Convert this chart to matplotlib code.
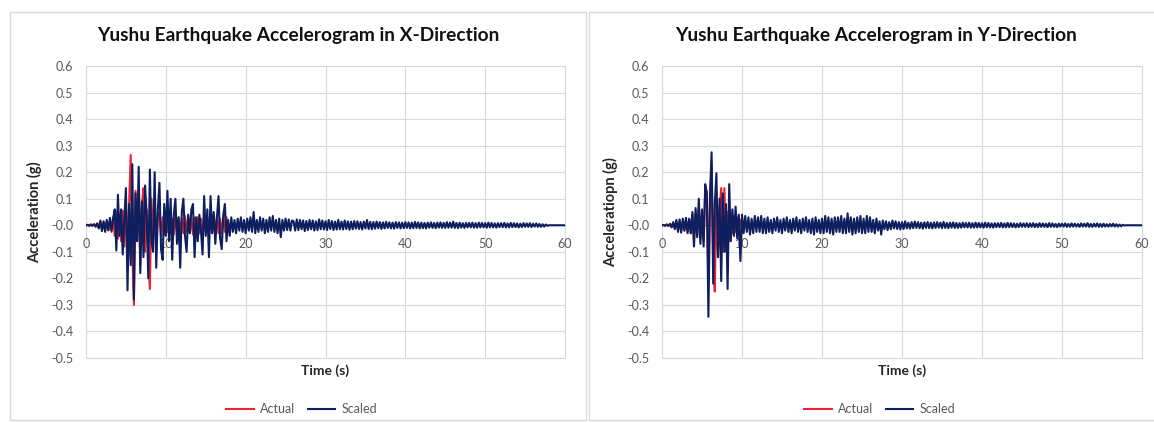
import numpy as np
import matplotlib
matplotlib.use("Agg")
import matplotlib.pyplot as plt
from matplotlib.patches import Rectangle

plt.rcParams['font.family'] = ['Lato', 'DejaVu Sans']

DT = 0.2  # sample interval (s) of the digitised records

# accelerations in milli-g, one row = 2 s
scaled_x_mg = [
    0, 1, -1, 2, -1, 3, -4, 6, -12, 18,
    -22, 15, -25, 20, -18, 28, -20, 25, 60, -95,
    115, -40, 60, -110, 20, 140, -245, 80, -150, 230,
    -280, 120, -60, 220, -180, 90, -120, 150, 40, -200,
    210, -60, -100, 200, -160, 60, 160, -90, -130, 80,
    -40, 130, -60, 100, -130, 40, 100, -70, 30, -160,
    50, 100, -40, -100, 40, -30, 60, 80, -120, 30,
    -60, 40, -20, -110, 110, -40, 60, -120, 110, -30,
    50, -70, 30, 110, -50, -90, 40, 80, -60, 20,
    -40, 30, -25, 20, -30, 25, -20, 30, -25, 20,
    -30, 25, -20, 30, -25, 50, -30, 20, -25, 30,
    -20, 25, -30, 20, -25, 30, -20, 35, -25, 20,
    -30, 25, -45, 20, -20, 25, -18, 22, -20, 18,
    15, -20, 22, -18, 20, -15, 18, -22, 16, -18,
    20, -15, 18, -20, 15, -18, 22, -15, 18, -16,
    15, -18, 20, -14, 16, -18, 14, -16, 20, -15,
    14, -16, 18, -14, 15, -17, 14, -15, 16, -13,
    15, -14, 12, -16, 14, -12, 20, -14, 13, -15,
    12, -13, 14, -11, 12, -14, 11, -12, 13, -10,
    11, -12, 10, -13, 12, -10, 11, -12, 10, -11,
    12, -10, 11, -12, 10, -11, 13, -10, 11, -12,
    10, -11, 9, -12, 10, -9, 11, -10, 9, -11,
    10, -9, 11, -10, 9, -10, 12, -9, 10, -9,
    14, -10, 9, -11, 10, -9, 8, -10, 9, -8,
    9, -8, 10, -9, 8, -9, 10, -8, 9, -8,
    8, -9, 10, -8, 9, -8, 7, -9, 8, -7,
    8, -7, 9, -8, 7, -8, 9, -7, 8, -7,
    7, -8, 6, -7, 8, -6, 7, -6, 8, -7,
    6, -5, 7, -6, 5, -6, 4, -5, 3, -2,
    0, 0, 0, 0, 0, 0, 0, 0, 0, 0,
    0,
]

actual_x_mg = [
    0, 2, -3, 4, -3, 5, -6, 8, -10, 12,
    -15, 12, -18, 14, -20, 16, -25, 30, -40, 50,
    -50, 40, -60, 55, -80, 100, -120, 80, 265, -100,
    -300, 130, -60, 120, -150, 80, 140, -100, 60, -120,
    -240, 100, -60, 80, -100, 40, 50, -40, 30, -35,
    30, -25, 35, -30, 25, -35, 30, -25, 30, -30,
    25, -30, 35, -25, 30, -30, 25, -35, 30, -25,
    30, -30, 25, -30, 35, -25, 30, -30, 25, -30,
    30, -25, 35, -30, 25, -30, 30, -25, 30, -20,
    0,
]

scaled_y_mg = [
    0, 1, -2, 3, -2, 5, -8, 12, -15, 20,
    -25, 22, -28, 25, -20, 28, -30, 25, -30, 50,
    -80, 65, -45, 100, -70, 60, -80, 155, 120, -345,
    110, 275, -220, 80, 196, -120, 100, -210, 120, -100,
    80, -240, 155, -60, 60, -40, 70, -50, 40, -135,
    40, -30, 35, -25, 30, -35, 25, -30, 35, -25,
    30, -25, 35, -30, 25, -30, 30, -25, 20, -30,
    25, -20, 30, -25, 20, -30, 25, -20, 30, -25,
    20, -30, 25, -20, 30, -25, 20, -30, 25, -20,
    30, -25, 20, -30, 25, -35, 30, -25, 20, -30,
    25, -30, 35, -25, 30, -30, 25, -35, 30, -25,
    30, -25, 35, -30, 25, -30, 45, -25, 30, -35,
    25, -30, 30, -25, 35, -30, 25, -30, 35, -25,
    30, -25, 20, -30, 25, -20, 15, -35, 18, -15,
    15, -18, 12, -15, 18, -12, 15, -14, 12, -16,
    12, -14, 15, -12, 10, -13, 12, -11, 14, -10,
    12, -11, 10, -13, 11, -10, 12, -11, 10, -12,
    11, -10, 12, -9, 10, -11, 13, -10, 9, -11,
    10, -9, 11, -10, 9, -10, 8, -9, 10, -8,
    9, -8, 10, -9, 8, -9, 10, -8, 9, -8,
    8, -9, 10, -8, 9, -8, 7, -9, 8, -7,
    8, -7, 9, -8, 7, -8, 9, -7, 8, -7,
    7, -8, 6, -7, 8, -6, 7, -6, 8, -7,
    7, -6, 8, -7, 6, -7, 8, -6, 7, -6,
    6, -7, 8, -6, 7, -6, 5, -7, 6, -5,
    6, -5, 7, -6, 5, -6, 7, -5, 6, -5,
    5, -6, 7, -5, 6, -5, 8, -6, 5, -6,
    6, -5, 7, -6, 5, -6, 6, -5, 4, -5,
    5, -4, 6, -5, 4, -5, 3, -4, 2, -1,
    0, 0, 0, 0, 0, 0, 0, 0, 0, 0,
    0,
]

actual_y_mg = [
    0, 1, -2, 3, -3, 5, -6, 8, -10, 12,
    -15, 12, -18, 15, -20, 18, -22, 20, -30, 40,
    -50, 45, -40, 60, -50, 40, -60, 120, 130, -220,
    100, 240, -150, -250, 100, -120, 60, 140, -100, 140,
    -100, 50, -60, 40, -30, 35, -25, 30, -20, 20,
    0,
]

titles = ['Yushu Earthquake Accelerogram in X-Direction',
          'Yushu Earthquake Accelerogram in Y-Direction']
ylabels = ['Acceleration (g)', 'Acceleratiopn (g)']
series_labels = ['Actual', 'Scaled']

RED = '#EE2233'
NAVY = '#0D1F5E'
GRID = '#D9D9D9'
TXT = '#595959'

W, H = 1154, 423
fig = plt.figure(figsize=(W / 100, H / 100), dpi=100)

# chart area borders
fig.patches.append(Rectangle((10 / W, 1 - 420 / H), 576 / W, 408 / H, transform=fig.transFigure,
                             fill=False, edgecolor=GRID, lw=1))
fig.patches.append(Rectangle((589 / W, 1 - 420 / H), 600 / W, 408 / H, transform=fig.transFigure,
                             fill=False, edgecolor=GRID, lw=1))


def to_series(mg):
    a = np.array(mg) / 1000.0
    t = np.arange(len(a)) * DT
    return t, a


def draw(ax, actual, scaled, title, ylabel, panel_cx):
    ta, aa = to_series(actual)
    ts, sa = to_series(scaled)
    ax.plot(ta, aa, color=RED, lw=1.5, label=series_labels[0], zorder=3)
    ax.plot(ts, sa, color=NAVY, lw=1.5, label=series_labels[1], zorder=4)
    ax.set_xlim(0, 60)
    ax.set_ylim(-0.5, 0.6)
    ax.set_xticks(np.arange(0, 61, 10))
    ax.set_yticks(np.round(np.arange(-0.5, 0.61, 0.1), 1))
    ax.yaxis.set_major_formatter(matplotlib.ticker.FormatStrFormatter('%.1f'))
    ax.grid(True, color=GRID, lw=0.8)
    ax.set_axisbelow(True)
    for s in ['top', 'right', 'left']:
        ax.spines[s].set_visible(False)
    ax.spines['bottom'].set_position(('data', 0))
    ax.spines['bottom'].set_color('#A6A6A6')
    ax.spines['bottom'].set_linewidth(0.8)
    ax.patch.set_edgecolor(GRID)
    ax.patch.set_linewidth(0.8)
    ax.tick_params(axis='both', length=0, labelsize=9, labelcolor=TXT)
    ax.tick_params(axis='x', pad=9)
    ax.tick_params(axis='y', pad=9)
    ax.set_xlabel('Time (s)', fontsize=10, fontweight='bold', color='#262626')
    ax.xaxis.set_label_coords(0.5, -0.02)
    ax.set_ylabel(ylabel, fontsize=10.5, fontweight='bold', color='#262626')
    ax.yaxis.set_label_coords(-0.092, 0.5)
    fig.text(panel_cx / W, 1 - 36 / H, title, ha='center', va='center',
             fontsize=13.8, fontweight='bold', color='#111111')
    handles, labels = ax.get_legend_handles_labels()
    fig.legend(handles, labels, loc='center', bbox_to_anchor=(panel_cx / W + 0.003, 1 - 409 / H),
               ncol=2, frameon=False, fontsize=9, handlelength=2.2, handletextpad=0.5,
               columnspacing=1.0, labelcolor=TXT)


ax1 = fig.add_axes([86 / W, 1 - 358 / H, 479 / W, 292 / H])
ax2 = fig.add_axes([662 / W, 1 - 358 / H, 480 / W, 292 / H])
draw(ax1, actual_x_mg, scaled_x_mg, titles[0], ylabels[0], 298)
draw(ax2, actual_y_mg, scaled_y_mg, titles[1], ylabels[1], 876)

fig.savefig('out.png', dpi=100)
